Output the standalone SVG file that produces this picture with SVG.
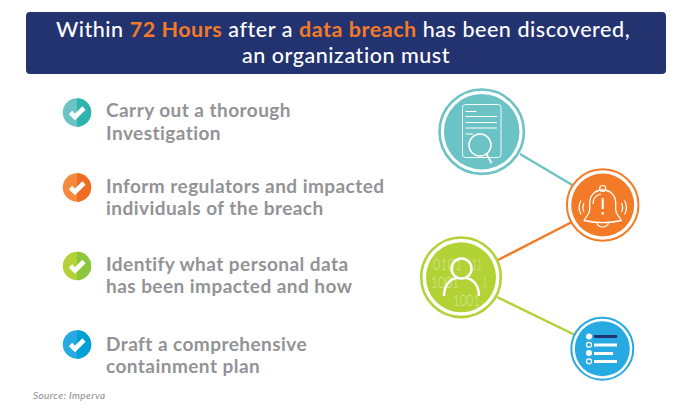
<svg xmlns="http://www.w3.org/2000/svg" width="688" height="411" viewBox="0 0 688 411">
<style>
.t{font-family:Lato,"Noto Sans",sans-serif;font-size:21.5px;font-weight:500;fill:#fff;text-anchor:middle;letter-spacing:.54px}
.o{fill:#f37a27;font-weight:700}
.l{font-family:Lato,"Noto Sans",sans-serif;font-size:19px;font-weight:700;fill:#929396;letter-spacing:.45px}
.s{font-family:Lato,"Noto Sans",sans-serif;font-size:10px;font-style:italic;fill:#8b8c8e;letter-spacing:.4px}
.ck{fill:none;stroke:#fff;stroke-width:4.6;stroke-linecap:butt;stroke-linejoin:miter}
.w{fill:none;stroke:#fff}
.b{font-family:Lato,"Noto Sans",sans-serif;font-size:15px;font-weight:300;fill:#fff;fill-opacity:.5}
</style>
<rect width="688" height="411" fill="#fff"/>
<g id="banner">
<rect x="26" y="12" width="640" height="62" rx="4" fill="#233370"/>
<text class="t" x="343" y="37">Within <tspan class="o">72 Hours</tspan> after a <tspan class="o">data breach</tspan> has been discovered,</text>
<text class="t" x="346" y="63">an organization must</text>
</g>
<g id="connectors" fill="none" stroke-width="2.5">
<line x1="520" y1="154" x2="574" y2="186" stroke="#6cc3c5"/>
<line x1="498" y1="260" x2="572" y2="222" stroke="#f37a27"/>
<line x1="497" y1="297" x2="575" y2="335" stroke="#b2d235"/>
</g>
<g id="item1">
<circle cx="77" cy="112.500" r="14.200" fill="#6cc3c5"/>
<path d="M77 98.300a14.200 14.200 0 0 1 0 28.400z" fill="#2fb4ad"/>
<path class="ck" d="M70.500 112.500l4.500 4.500 9-9"/>
<text class="l" x="106" y="117">Carry out a thorough</text>
<text class="l" x="106" y="139.500">Investigation</text>
</g>
<g id="item2">
<circle cx="77" cy="187.500" r="14.200" fill="#f58a3c"/>
<path d="M77 173.300a14.200 14.200 0 0 1 0 28.400z" fill="#ef6c23"/>
<path class="ck" d="M70.500 187.500l4.500 4.500 9-9"/>
<text class="l" x="106" y="193">Inform regulators and impacted</text>
<text class="l" x="106" y="215">individuals of the breach</text>
</g>
<g id="item3">
<circle cx="77" cy="266" r="14.200" fill="#b2d235"/>
<path d="M77 251.800a14.200 14.200 0 0 1 0 28.400z" fill="#8cc63f"/>
<path class="ck" d="M70.500 266l4.500 4.500 9-9"/>
<text class="l" x="106" y="271">Identify what personal data</text>
<text class="l" x="106" y="293">has been impacted and how</text>
</g>
<g id="item4">
<circle cx="77" cy="344.500" r="14.200" fill="#27aae1"/>
<path d="M77 330.300a14.200 14.200 0 0 1 0 28.400z" fill="#00a0d6"/>
<path class="ck" d="M70.500 344.500l4.500 4.500 9-9"/>
<text class="l" x="106" y="351">Draft a comprehensive</text>
<text class="l" x="106" y="373">containment plan</text>
</g>
<text id="source" class="s" x="33" y="398.500">Source: Imperva</text>
<g id="node-investigate">
<circle cx="481.700" cy="131.700" r="42.200" fill="#fff" stroke="#6cc3c5" stroke-width="2.600"/>
<circle cx="481.700" cy="131.700" r="37.800" fill="#6cc3c5"/>
<rect class="w" x="462.500" y="104.500" width="38.500" height="53" rx="3" stroke-width=".9"/>
<path class="w" stroke-width="1.200" d="M465.500 111.500h11M465.500 116.500h31.500M465.500 122.500h31.500M465.500 128h31.500M465.500 134h7.500"/>
<circle cx="480" cy="145" r="11" fill="#6cc3c5" stroke="#fff" stroke-width="1.500"/>
<path class="w" stroke-width="1.800" d="M486.500 154l5 9"/>
</g>
<g id="node-alert">
<circle cx="602.700" cy="205" r="35.800" fill="#fff" stroke="#f37a27" stroke-width="2"/>
<circle cx="602.700" cy="205" r="31.500" fill="#f37a27"/>
<path class="w" stroke-width="1.300" d="M602.700 190c-8.500 0-13 6-13 13.500v6c0 5-4 7-5.500 11c12 2.800 25 2.800 37 0c-1.500-4-5.500-6-5.500-11v-6c0-7.500-4.500-13.500-13-13.500z"/>
<circle class="w" cx="602.700" cy="188.500" r="3" stroke-width="1.200"/>
<path class="w" stroke-width="1.200" d="M597 222.500a5.700 4.500 0 0 0 11.400 0M593 204c0-5 3-9 8-10"/>
<path class="w" stroke-width="2" d="M602.700 198v11M602.700 212v2.500"/>
<path class="w" stroke-width="1.200" d="M584 203c-1.500 3-1.500 6 0 9M581 200.500c-2.500 4.500-2.500 9.500 0 14M621.500 203c1.500 3 1.500 6 0 9M624.500 200.500c2.500 4.500 2.500 9.500 0 14"/>
</g>
<g id="node-data">
<circle cx="461" cy="277.300" r="39.800" fill="#fff" stroke="#b2d235" stroke-width="2.600"/>
<circle cx="461" cy="277.300" r="35" fill="#b2d235"/>
<text class="b" x="433" y="269.500" textLength="29" lengthAdjust="spacingAndGlyphs">0101</text>
<text class="b" x="472" y="269.500" textLength="10" lengthAdjust="spacingAndGlyphs">11</text>
<text class="b" x="431" y="288" textLength="28" lengthAdjust="spacingAndGlyphs">1001</text>
<text class="b" x="483" y="288" textLength="4" lengthAdjust="spacingAndGlyphs">1</text>
<text class="b" x="453" y="306" textLength="27" lengthAdjust="spacingAndGlyphs">1001</text>
<circle class="w" cx="461.500" cy="268.500" r="10" stroke-width="2.500"/>
<path class="w" stroke-width="2.500" d="M444 296c0-11 6-17 13-18M479 296c0-11-6-17-13-18"/>
</g>
<g id="node-plan">
<circle cx="602.300" cy="348.700" r="31" fill="#fff" stroke="#27aae1" stroke-width="2"/>
<circle cx="602.300" cy="348.700" r="27.500" fill="#27aae1"/>
<circle cx="589" cy="336.500" r="3" fill="#fff"/>
<circle cx="589" cy="344.800" r="2.500" fill="none" stroke="#fff" stroke-width="1.300"/>
<circle cx="589" cy="353" r="3" fill="#fff"/>
<circle cx="589" cy="361.300" r="2.500" fill="none" stroke="#fff" stroke-width="1.300"/>
<rect x="594" y="335" width="23" height="3" fill="#233370"/>
<rect x="594" y="343.500" width="23" height="3" fill="#fff"/>
<rect x="594" y="352" width="19" height="3" fill="#fff"/>
<rect x="594" y="360" width="23" height="3" fill="#fff"/>
</g>
</svg>
